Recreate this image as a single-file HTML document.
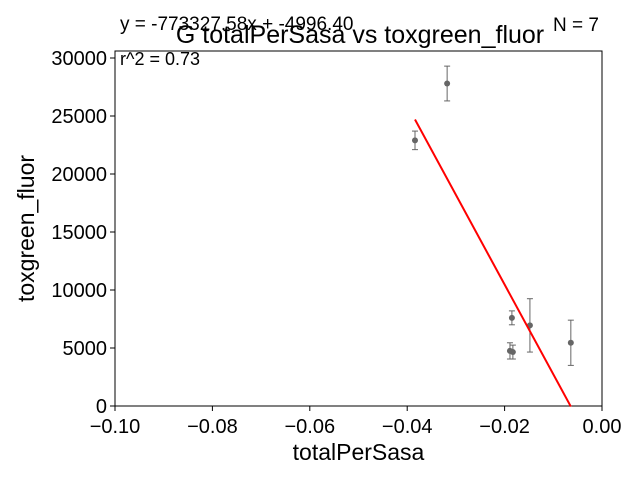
<!DOCTYPE html>
<html><head><meta charset="utf-8"><style>body{margin:0;background:#fff}svg{display:block;font-family:"Liberation Sans",Arial,sans-serif}</style></head>
<body>
<svg id="chart" width="640" height="480" xmlns="http://www.w3.org/2000/svg"></svg>
<script>
const xTicks=[-0.10,-0.08,-0.06,-0.04,-0.02,0.00];
const yTicks=[0,5000,10000,15000,20000,25000,30000];
const xVals=[-0.0384,-0.0318,-0.0185,-0.0189,-0.0183,-0.0148,-0.0064];
const yVals=[22900,27800,7600,4750,4650,6950,5450];
const yErr=[800,1500,600,700,600,2300,1950];
const slope=-773327.58, intercept=-4996.40;
const L=115,R=602,T=51,B=406;
const xS=v=>L+(v+0.10)/0.10*(R-L);
const yS=v=>B-v/30000*(B-58);
const svg=document.getElementById('chart');const NS='http://www.w3.org/2000/svg';
function add(tag,attrs,text,name){const e=document.createElementNS(NS,tag);for(const k in attrs)e.setAttribute(k,attrs[k]);if(text!==undefined)e.textContent=text;


svg.appendChild(e);return e;}
add('rect',{x:L,y:T,width:R-L,height:B-T,fill:'none',stroke:'#000','stroke-width':1},undefined,'plot-frame');
xTicks.forEach(t=>{const x=xS(t);add('line',{x1:x,x2:x,y1:B,y2:B+5,stroke:'#000'},undefined,'x-tick');
add('text',{x:x,y:B+27,'font-size':20,'text-anchor':'middle'},t.toFixed(2).replace('-','−'),'x-tick-label');});
yTicks.forEach(t=>{const y=yS(t);add('line',{x1:L-5,x2:L,y1:y,y2:y,stroke:'#000'},undefined,'y-tick');
add('text',{x:L-8,y:y+7,'font-size':20,'text-anchor':'end'},String(t),'y-tick-label');});
add('text',{x:(L+R)/2,y:460,'font-size':23,'text-anchor':'middle'},'totalPerSasa','x-axis-title');
add('text',{x:0,y:0,'font-size':23,'text-anchor':'middle',transform:`translate(34,${(T+B)/2}) rotate(-90)`},'toxgreen_fluor','y-axis-title');
add('text',{x:360,y:43,'font-size':25,'text-anchor':'middle'},'G totalPerSasa vs toxgreen_fluor','chart-title');
add('text',{x:120,y:30,'font-size':19},'y = -773327.58x + -4996.40','equation-label');
add('text',{x:120,y:65,'font-size':18},'r^2 = 0.73','r2-label');
add('text',{x:599,y:31,'font-size':19,'text-anchor':'end'},'N = 7','n-label');
xVals.forEach((xv,i)=>{const x=xS(xv),y1=yS(yVals[i]-yErr[i]),y2=yS(yVals[i]+yErr[i]);
add('line',{x1:x,x2:x,y1:y1,y2:y2,stroke:'#666','stroke-width':1},undefined,'error-bar');
add('line',{x1:x-3,x2:x+3,y1:y1,y2:y1,stroke:'#666'},undefined,'error-cap');
add('line',{x1:x-3,x2:x+3,y1:y2,y2:y2,stroke:'#666'},undefined,'error-cap');
add('circle',{cx:x,cy:yS(yVals[i]),r:3,fill:'#666'},undefined,'data-point');});
const xmin=Math.min(...xVals),xmax=Math.max(...xVals);
add('line',{x1:xS(xmin),y1:yS(slope*xmin+intercept),x2:xS(xmax),y2:yS(slope*xmax+intercept),stroke:'red','stroke-width':2},undefined,'fit-line');
</script>
</body></html>
